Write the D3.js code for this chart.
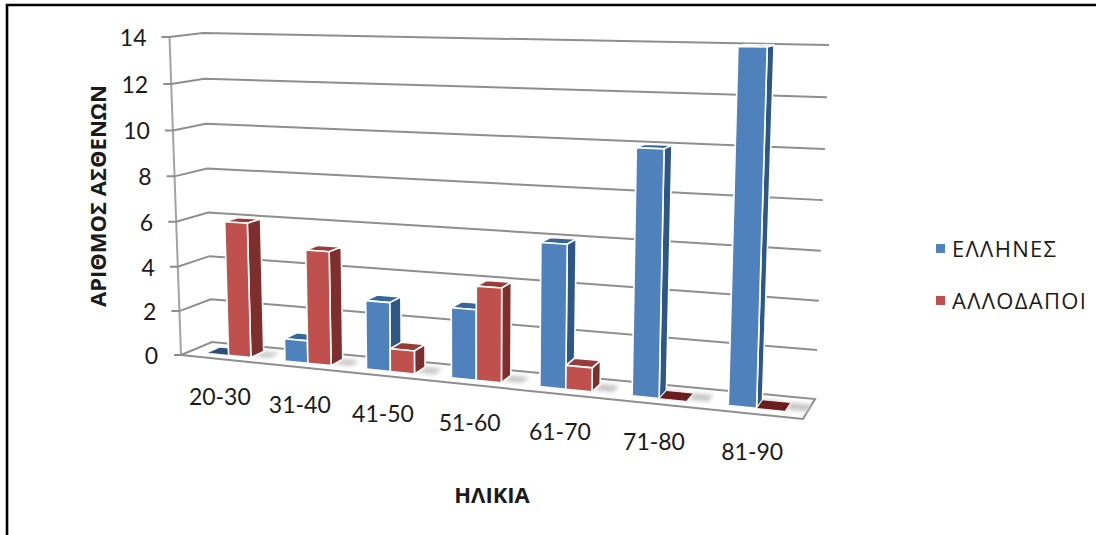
<!DOCTYPE html>
<html>
<head>
<meta charset="utf-8">
<script src="https://cdn.jsdelivr.net/npm/d3@7/dist/d3.min.js"></script>
<style>
html,body{margin:0;padding:0;background:#fff;}
svg{display:block;}
text{font-family:"Open Sans","Noto Sans",sans-serif;fill:#1a1a1a;}
text.num{font-family:Lato,"Open Sans",sans-serif;}
</style>
</head>
<body>
<svg id="chart" width="1096" height="535"></svg>
<script>
// Age bands and patient counts per group
const categories = ["20-30","31-40","41-50","51-60","61-70","71-80","81-90"];
const greeks = [0,1,3,3,6,10,14];
const foreigners = [6,5,1,4,1,0,0];
const seriesNames = ["ΕΛΛΗΝΕΣ","ΑΛΛΟΔΑΠΟΙ"];
const seriesValues = [greeks, foreigners];
const valueTicks = [0,2,4,6,8,10,12,14];

const faceColors = ["#4f81bd","#c0504d"];
const sideColors = ["#2f5783","#7e2f2d"];
const topColors = ["#36679b","#983c3a"];
const flatColors = ["#27507c","#6b1c1c"];

const svg = d3.select("#chart");

// Chart box corners on the page: f = front plane, b = back plane; l/r at value 0 and at value 14
const box = {
  fl0:[181,355], fl1:[169.5,37], fr0:[803,419], fr1:[815,49],
  bl0:[212,342], bl1:[203,33],  br0:[815,399], br1:[829,45]
};
const lerp = (a,b,t)=>a+(b-a)*t;
const mix = (p,q,t)=>[lerp(p[0],q[0],t),lerp(p[1],q[1],t)];

const vScale = d3.scaleLinear().domain([0,14]).range([0,1]);
const band = d3.scaleBand().domain(categories).range([0,1]);
const seriesBand = d3.scaleBand().domain([0,1]).range([0.22,0.79]);

// Perspective foreshortening along the category and value directions
const warpWith = k => u => u/(k-(k-1)*u);
const warpU = warpWith(1.155);
const warpV = warpWith(1.04);

// u: along the categories, value: height, w: 0 front, 1 back
function project(u,value,w){
  const t = warpU(u), v = warpV(vScale(value));
  const fl = mix(box.fl0,box.fl1,v), fr = mix(box.fr0,box.fr1,v);
  const bl = mix(box.bl0,box.bl1,v), br = mix(box.br0,box.br1,v);
  return mix(mix(fl,fr,t),mix(bl,br,t),w);
}
const path = d3.line().curve(d3.curveLinearClosed);
const open = d3.line();

const defs = svg.append("defs");
defs.append("filter").attr("id","soft").attr("x","-50%").attr("y","-100%").attr("width","200%").attr("height","300%")
  .append("feGaussianBlur").attr("stdDeviation",2.2);

// Outer frame
svg.append("path").attr("d","M7,535V5H1096").attr("fill","none").attr("stroke","#000").attr("stroke-width",2.6);

// Value axis line
svg.append("path").attr("d",open([project(0,0,0),project(0,14,0)]))
  .attr("fill","none").attr("stroke","#a3a3a3").attr("stroke-width",2);

// Gridlines run from a tick, across the side wall, then along the back wall
const grid = svg.append("g").attr("fill","none").attr("stroke","#8e8e8e").attr("stroke-width",2);
valueTicks.forEach(d=>{
  if(d===0) return;
  const a = project(0,d,0);
  grid.append("path").attr("d",open([[a[0]-8,a[1]],a,project(0,d,1),project(1,d,1)]));
});

// Floor
const floorPts = [project(0,0,0),project(1,0,0),project(1,0,1),project(0,0,1)];
svg.append("path").attr("d",path(floorPts)).attr("fill","#fff").attr("stroke","#8e8e8e").attr("stroke-width",2);
const z0 = project(0,0,0);
svg.append("path").attr("d",open([[z0[0]-7,z0[1]],z0])).attr("stroke","#8e8e8e").attr("stroke-width",2);

// Value tick labels
svg.append("g").selectAll("text").data(valueTicks).join("text").attr("class","num")
  .attr("x",d=>project(0,d,0)[0]-23)
  .attr("y",d=>project(0,d,0)[1]+9)
  .attr("text-anchor","end").attr("font-size",23).text(d=>d);

// Category labels
svg.append("g").selectAll("text").data(categories).join("text").attr("class","num")
  .attr("x",d=>project(band(d)+band.bandwidth()/2,0,0)[0])
  .attr("y",d=>project(band(d)+band.bandwidth()/2,0,0)[1]+46)
  .attr("text-anchor","middle").attr("font-size",23).text(d=>d);

// Bars, left to right so nearer faces overlap correctly
const w0 = 0.28, w1 = 0.72;
const shadows = svg.append("g").attr("filter","url(#soft)").attr("fill","#c4c4c4");
const bars = svg.append("g").attr("stroke","#fff").attr("stroke-width",1.6).attr("stroke-linejoin","round");
categories.forEach((cat,i)=>{
  [0,1].forEach(s=>{
    const val = seriesValues[s][i];
    const u0 = band(cat)+seriesBand(s)*band.bandwidth();
    const u1 = u0+seriesBand.bandwidth()*band.bandwidth();
    if(s===1 || seriesValues[1][i]===0){
      shadows.append("path").attr("d",path([
        project(u1,0,w0+0.1),project(u1+0.03,0,w0+0.1),project(u1+0.03,0,w1),project(u1,0,w1)]));
    }
    const topFace = [project(u0,val,w0),project(u1,val,w0),project(u1,val,w1),project(u0,val,w1)];
    if(val===0){
      bars.append("path").attr("d",path(topFace)).attr("fill",flatColors[s]).attr("stroke-width",0.8);
      return;
    }
    bars.append("path").attr("d",path(topFace)).attr("fill",topColors[s]);
    bars.append("path").attr("d",path([project(u1,0,w0),project(u1,val,w0),project(u1,val,w1),project(u1,0,w1)])).attr("fill",sideColors[s]);
    bars.append("path").attr("d",path([project(u0,0,w0),project(u1,0,w0),project(u1,val,w0),project(u0,val,w0)])).attr("fill",faceColors[s]);
  });
});

// Axis titles
svg.append("text").attr("transform","translate(106,196) rotate(-90)")
  .attr("text-anchor","middle").attr("font-size",22).attr("font-weight",700).text("ΑΡΙΘΜΟΣ ΑΣΘΕΝΩΝ");
svg.append("text").attr("x",492).attr("y",503)
  .attr("text-anchor","middle").attr("font-size",22).attr("font-weight",700).text("ΗΛΙΚΙΑ");

// Legend
const legendY = d3.scalePoint().domain(seriesNames).range([249,301]);
const legend = svg.append("g").selectAll("g").data(seriesNames).join("g")
  .attr("transform",d=>`translate(936,${legendY(d)})`);
legend.append("rect").attr("x",0).attr("y",-5).attr("width",9).attr("height",9)
  .attr("fill",(d,i)=>faceColors[i]);
legend.append("text").attr("x",16).attr("y",8).attr("font-size",22).attr("letter-spacing",1.3).text(d=>d);
</script>
</body>
</html>
